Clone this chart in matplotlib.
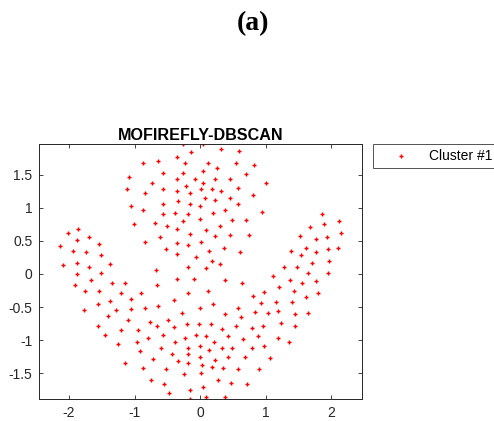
import numpy as np
import matplotlib.pyplot as plt

# Cluster #1 point coordinates
x_vals = [
    -0.26, 0.04, 0.32, -0.14, 0.59, -0.36, -0.87, -0.64, -0.23, 0.12,
    0.54, 0.82, 0.26, 0.05, -0.56, -0.26, 0.70, -1.08, -0.36, -0.08,
    0.22, 0.46, -0.73, 0.05, 1.00, -0.21, -1.12, -0.56, 0.02, 0.18,
    0.58, -0.84, -0.36, -0.16, 0.32, 0.80, 0.07, 0.46, -0.34, -0.15,
    0.22, -0.56, 0.58, -1.06, 0.00, -0.87, 0.38, 0.94, -0.57, -0.39,
    -0.18, 0.19, 0.00, 0.49, 0.70, -0.26, -1.01, -0.69, -0.51, 0.30,
    -0.35, 0.09, -0.15, -0.61, 0.22, 0.46, 0.75, -0.36, 0.02, -0.84,
    -0.18, -0.52, 0.37, 0.13, 0.61, -0.35, -0.06, 0.18, 0.30, -0.19,
    0.09, -0.67, -0.65, -0.36, -0.10, 0.38, 0.63, -0.18, 0.12,
    -2.02, -1.86, -1.87, -1.69, -2.14, -1.54, -1.94, -1.74, -1.51, -1.87,
    -2.09, -1.70, -1.38, -1.87, -1.51, -1.66, -1.91, -1.34, -1.75, -1.54,
    -1.14, -1.21, -0.90, -1.55, -1.38, -1.06, -1.05, -0.84, -1.77, -1.28,
    -1.41, -1.55, -1.10, -1.21, -1.45, -1.25, -0.95, -0.96, -0.80, -0.92,
    -0.77, -0.65, -0.64, -0.49, -0.40, -0.56, -0.40, -0.27, -0.87, -1.14,
    -0.72, -0.75, -0.59, -0.52, -0.55, -0.47, -0.43, -0.38, -0.34, -0.23,
    -0.24, -0.19, -0.19, -0.18, -0.16, -0.15, -0.20, 0.00, -0.01, -0.06,
    0.00, 0.00, 0.03, 0.01, 0.04, 0.09, 0.09, 0.14, 0.16, 0.18,
    0.21, 0.22, 0.19, 0.27, 0.34, 0.34, 0.35, 0.38, 0.38, 0.42,
    0.42, 0.47, 0.49, 0.54, 0.57, 0.57, 0.62, 0.65, 0.68, 0.71,
    0.79, 0.79, 0.80, 0.83, 0.88, 0.90, 0.93, 0.96, 0.97, 0.98,
    1.03, 1.07, 1.11, 1.16, 1.20, 1.19, 1.19, 1.23, 1.27, 1.35,
    1.37, 1.40, 1.43, 1.44, 1.44, 1.39, 1.48, 1.52, 1.55, 1.54,
    1.61, 1.64, 1.61, 1.65, 1.68, 1.71, 1.76, 1.77, 1.76, 1.79,
    1.86, 1.88, 1.93, 1.95, 1.96, 1.95, 2.10, 2.12, 2.15,
]
y_vals = [
    1.96, 1.96, 1.89, 1.84, 1.85, 1.76, 1.68, 1.71, 1.67, 1.68,
    1.67, 1.65, 1.60, 1.56, 1.52, 1.52, 1.51, 1.47, 1.43, 1.44,
    1.43, 1.43, 1.37, 1.38, 1.38, 1.33, 1.28, 1.28, 1.28, 1.29,
    1.30, 1.23, 1.25, 1.22, 1.25, 1.19, 1.15, 1.14, 1.10, 1.05,
    1.11, 1.05, 1.05, 1.02, 1.02, 0.96, 0.96, 0.94, 0.91, 0.92,
    0.90, 0.92, 0.83, 0.82, 0.81, 0.80, 0.75, 0.77, 0.72, 0.73,
    0.68, 0.66, 0.61, 0.56, 0.58, 0.59, 0.59, 0.47, 0.49, 0.48,
    0.44, 0.38, 0.40, 0.35, 0.33, 0.30, 0.25, 0.20, 0.15, 0.11,
    0.09, 0.06, -0.17, -0.07, -0.07, -0.09, -0.13, -0.29, -0.26,
    0.62, 0.68, 0.52, 0.56, 0.43, 0.45, 0.34, 0.33, 0.28, 0.16,
    0.14, 0.11, 0.15, 0.00, 0.02, -0.09, -0.17, -0.13, -0.26, -0.26,
    -0.14, -0.29, -0.29, -0.45, -0.41, -0.38, -0.53, -0.52, -0.55, -0.55,
    -0.64, -0.79, -0.69, -0.84, -0.92, -1.06, -0.84, -1.03, -0.96, -1.16,
    -0.72, -0.79, -0.49, -0.69, -0.40, -0.92, -0.80, -0.59, -1.42, -1.35,
    -1.28, -1.60, -1.11, -1.44, -1.66, -1.79, -1.21, -1.02, -1.31, -0.96,
    -1.51, -1.11, -1.21, -1.35, -1.75, -1.89, -0.76, -0.52, -0.75, -0.92,
    -1.08, -1.25, -1.37, -1.50, -1.71, -1.85, -0.94, -1.14, -0.76, -1.41,
    -1.02, -1.30, -0.45, -1.60, -0.83, -1.12, -1.42, -1.85, -0.61, -1.25,
    -0.93, -1.64, -1.12, -0.79, -0.51, -1.44, -0.65, -0.98, -1.25, -1.66,
    -1.12, -0.81, -0.33, -0.57, -0.94, -1.44, -0.44, -0.79, -1.09, -0.27,
    -0.59, -1.27, -0.03, -0.42, -0.19, -0.56, -0.96, -0.74, 0.11, -1.02,
    -0.09, -0.42, -0.26, -0.60, -0.79, 0.35, 0.11, 0.57, -0.14, 0.28,
    0.39, 0.01, -0.34, -0.59, 0.71, 0.17, 0.33, 0.53, -0.10, -0.29,
    0.91, 0.75, 0.56, 0.38, 0.20, 0.02, 0.39, 0.80, 0.62,
]

x_ticks = [-2, -1, 0, 1, 2]
y_ticks = [-1.5, -1, -0.5, 0, 0.5, 1, 1.5]

plt.rcParams['font.family'] = ['Liberation Sans', 'DejaVu Sans']
ink = '#262626'

fig = plt.figure(figsize=(4.94, 4.21), dpi=100)
ax = fig.add_axes([0.0796, 0.0523, 0.6538, 0.6057])

ax.scatter(x_vals, y_vals, marker='+', s=12, linewidths=1.0,
           color='red', label='Cluster #1')

ax.set_xlim(-2.45, 2.47)
ax.set_ylim(-1.887, 1.963)
ax.set_xticks(x_ticks)
ax.set_yticks(y_ticks)
ax.set_yticklabels(['-1.5', '-1', '-0.5', '0', '0.5', '1', '1.5'])
ax.set_xticklabels(['-2', '-1', '0', '1', '2'])
ax.tick_params(direction='in', top=True, right=True, length=3,
               width=0.6, labelsize=10, colors=ink, pad=5)
for sp in ax.spines.values():
    sp.set_color(ink)
    sp.set_linewidth(0.7)

ax.set_title('MOFIREFLY-DBSCAN', fontsize=11.6, fontweight='bold', pad=3)

leg = fig.legend(loc='upper left', bbox_to_anchor=(373 / 494, 1 - 144 / 421),
                 fontsize=10, handlelength=3.4, handletextpad=0.3,
                 borderaxespad=0, fancybox=False, frameon=True,
                 borderpad=0.35, scatterpoints=1)
leg.get_frame().set_edgecolor(ink)
leg.get_frame().set_linewidth(0.7)

fig.text(0.513, 0.943, '(a)', ha='center', va='center', fontsize=20,
         fontweight='bold', family='Liberation Serif')

fig.savefig('out.png', dpi=100)
